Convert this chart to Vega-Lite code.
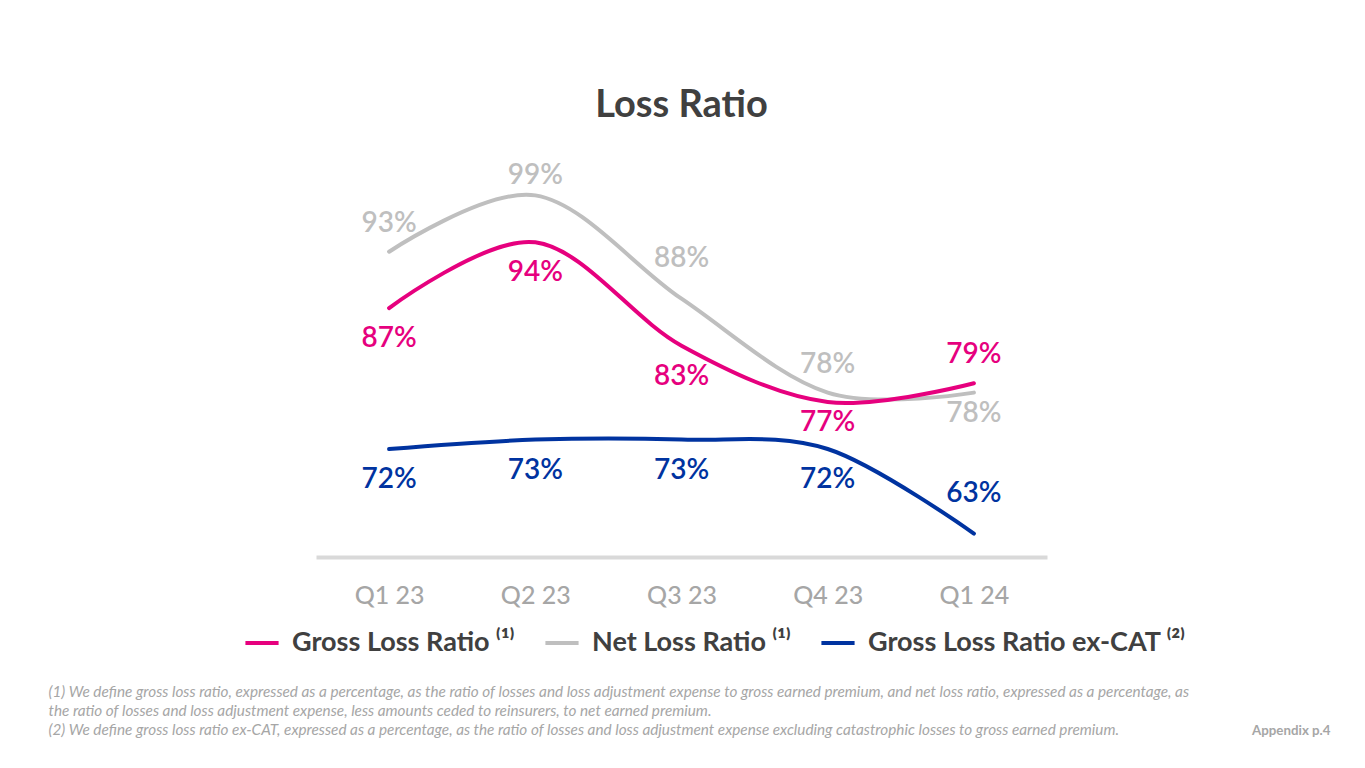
{
  "$schema": "https://vega.github.io/schema/vega-lite/v6.json",
  "width": 731,
  "height": 371,
  "autosize": {"type": "none"},
  "padding": {"left": 316, "top": 186, "right": 318, "bottom": 211},
  "background": "white",
  "config": {"font": "Lato", "view": {"stroke": null}},
  "title": {"text": "Loss Ratio", "fontSize": 38, "fontWeight": "bold", "color": "#404040", "anchor": "middle", "offset": 7, "baseline": "alphabetic", "font": "Lato"},
  "data": {"values": [
    {"quarter": "Q1 23", "series": "Net Loss Ratio", "value": 0.93},
    {"quarter": "Q2 23", "series": "Net Loss Ratio", "value": 0.99},
    {"quarter": "Q3 23", "series": "Net Loss Ratio", "value": 0.88},
    {"quarter": "Q4 23", "series": "Net Loss Ratio", "value": 0.78},
    {"quarter": "Q1 24", "series": "Net Loss Ratio", "value": 0.78},
    {"quarter": "Q1 23", "series": "Gross Loss Ratio", "value": 0.87},
    {"quarter": "Q2 23", "series": "Gross Loss Ratio", "value": 0.94},
    {"quarter": "Q3 23", "series": "Gross Loss Ratio", "value": 0.83},
    {"quarter": "Q4 23", "series": "Gross Loss Ratio", "value": 0.77},
    {"quarter": "Q1 24", "series": "Gross Loss Ratio", "value": 0.79},
    {"quarter": "Q1 23", "series": "Gross Loss Ratio ex-CAT", "value": 0.72},
    {"quarter": "Q2 23", "series": "Gross Loss Ratio ex-CAT", "value": 0.73},
    {"quarter": "Q3 23", "series": "Gross Loss Ratio ex-CAT", "value": 0.73},
    {"quarter": "Q4 23", "series": "Gross Loss Ratio ex-CAT", "value": 0.72},
    {"quarter": "Q1 24", "series": "Gross Loss Ratio ex-CAT", "value": 0.63}
  ]},
  "encoding": {
    "x": {
      "field": "quarter", "type": "ordinal",
      "sort": ["Q1 23", "Q2 23", "Q3 23", "Q4 23", "Q1 24"],
      "scale": {"type": "point", "padding": 0.5},
      "axis": {
        "title": [
          "(1) We define gross loss ratio, expressed as a percentage, as the ratio of losses and loss adjustment expense to gross earned premium, and net loss ratio, expressed as a percentage, as",
          "the ratio of losses and loss adjustment expense, less amounts ceded to reinsurers, to net earned premium.",
          "(2) We define gross loss ratio ex-CAT, expressed as a percentage, as the ratio of losses and loss adjustment expense excluding catastrophic losses to gross earned premium."
        ],
        "titleX": -268, "titleY": 127, "titleAlign": "left", "titleBaseline": "top", "titleAngle": 0,
        "titleFontSize": 15.3, "titleFontStyle": "italic", "titleFontWeight": "normal", "titleColor": "#a6a6a6", "titleLineHeight": 19, "titleFont": "Lato",
        "labelFontSize": 25, "labelFontWeight": 500, "labelColor": "#a6a6a6", "labelPadding": 26, "labelAngle": 0, "labelFont": "Lato",
        "ticks": false, "grid": false, "domainColor": "#d9d9d9", "domainWidth": 4
      }
    },
    "y": {
      "field": "value", "type": "quantitative",
      "scale": {"domain": [0.605, 1.0], "nice": false, "zero": false},
      "axis": {
        "orient": "right", "title": "Appendix p.4", "titleAngle": 0, "titleX": 283, "titleY": 544,
        "titleAlign": "right", "titleBaseline": "middle", "titleFontSize": 13.3, "titleFontWeight": "bold", "titleColor": "#a6a6a6", "titleFont": "Lato",
        "labels": false, "ticks": false, "domain": false, "grid": false
      }
    },
    "color": {
      "field": "series", "type": "nominal",
      "scale": {"domain": ["Gross Loss Ratio", "Net Loss Ratio", "Gross Loss Ratio ex-CAT"], "range": ["#e6007e", "#bfbfbf", "#0033a0"]},
      "legend": {
        "orient": "none", "legendX": -73, "legendY": 438, "direction": "horizontal", "title": null,
        "symbolType": "stroke", "symbolSize": 1100, "symbolStrokeWidth": 4,
        "labelFontSize": 27, "labelFontWeight": "bold", "labelColor": "#404040", "labelFont": "Lato",
        "labelOffset": 11, "columnPadding": 22, "labelLimit": 0,
        "labelExpr": "datum.label + (datum.label === 'Gross Loss Ratio ex-CAT' ? ' ⁽²⁾' : ' ⁽¹⁾')"
      }
    }
  },
  "layer": [
    {"mark": {"type": "line", "interpolate": "cardinal", "strokeWidth": 4, "strokeCap": "round"}},
    {
      "transform": [{"filter": "(datum.series === 'Net Loss Ratio' && datum.quarter === 'Q3 23') || (datum.series === 'Gross Loss Ratio ex-CAT' && datum.quarter === 'Q1 24')"}],
      "mark": {"type": "text", "fontSize": 28, "dy": -40, "baseline": "middle", "fontWeight": 600},
      "encoding": {"text": {"field": "value", "type": "quantitative", "format": ".0%"}}
    },
    {
      "transform": [{"filter": "(datum.series === 'Net Loss Ratio' && (datum.quarter === 'Q1 23' || datum.quarter === 'Q4 23')) || (datum.series === 'Gross Loss Ratio' && datum.quarter === 'Q1 24')"}],
      "mark": {"type": "text", "fontSize": 28, "dy": -28, "baseline": "middle", "fontWeight": 600},
      "encoding": {"text": {"field": "value", "type": "quantitative", "format": ".0%"}}
    },
    {
      "transform": [{"filter": "datum.series === 'Net Loss Ratio' && datum.quarter === 'Q2 23'"}],
      "mark": {"type": "text", "fontSize": 28, "dy": -19, "baseline": "middle", "fontWeight": 600},
      "encoding": {"text": {"field": "value", "type": "quantitative", "format": ".0%"}}
    },
    {
      "transform": [{"filter": "(datum.series === 'Gross Loss Ratio' && datum.quarter !== 'Q4 23' && datum.quarter !== 'Q1 24') || (datum.series === 'Gross Loss Ratio ex-CAT' && datum.quarter !== 'Q1 24')"}],
      "mark": {"type": "text", "fontSize": 28, "dy": 31, "baseline": "middle", "fontWeight": 600},
      "encoding": {"text": {"field": "value", "type": "quantitative", "format": ".0%"}}
    },
    {
      "transform": [{"filter": "(datum.series === 'Gross Loss Ratio' && datum.quarter === 'Q4 23') || (datum.series === 'Net Loss Ratio' && datum.quarter === 'Q1 24')"}],
      "mark": {"type": "text", "fontSize": 28, "dy": 21, "baseline": "middle", "fontWeight": 600},
      "encoding": {"text": {"field": "value", "type": "quantitative", "format": ".0%"}}
    }
  ]
}
